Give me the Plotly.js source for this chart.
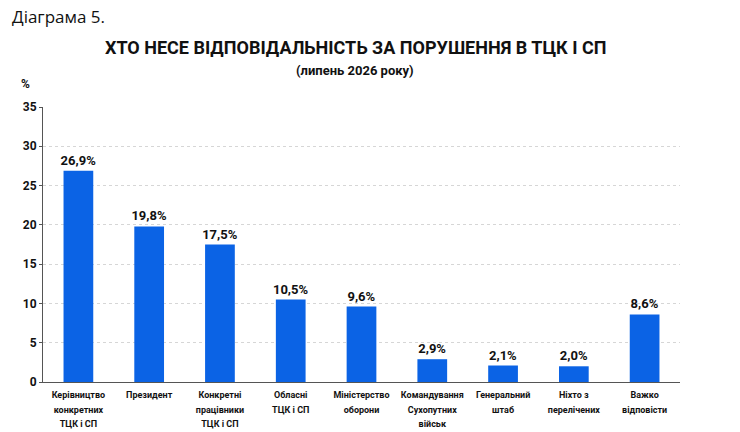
<!DOCTYPE html>
<html>
<head>
<meta charset="utf-8">
<script src="https://cdn.plot.ly/plotly-3.0.1.min.js"></script>
<style>
  html, body { margin: 0; padding: 0; background: #fff; }
  #chart { width: 740px; height: 432px; }
</style>
</head>
<body>
<div id="chart"></div>
<script>
// categories and values
const categories = [
  'Керівництво<br>конкретних<br>ТЦК і СП',
  'Президент',
  'Конкретні<br>працівники<br>ТЦК і СП',
  'Обласні<br>ТЦК і СП',
  'Міністерство<br>оборони',
  'Командування<br>Сухопутних<br>військ',
  'Генеральний<br>штаб',
  'Ніхто з<br>перелічених',
  'Важко<br>відповісти'
];
const values = [26.9, 19.8, 17.5, 10.5, 9.6, 2.9, 2.1, 2.0, 8.6];
const yTicks = [0, 5, 10, 15, 20, 25, 30, 35];

const condensed = 'Roboto, "Liberation Sans", sans-serif';
const blue = '#0b63e5';

// small glyphs but roomy line spacing, as in the picture
const tickText = categories.map(c =>
  c.split('<br>').map(s => '<span style="font-size:9px">' + s + '</span>').join('<br>'));

const data = [{
  x: categories,
  y: values,
  type: 'bar',
  marker: { color: blue },
  text: values.map(v => v.toFixed(1).replace('.', ',') + '%'),
  textposition: 'outside',
  constraintext: 'none',
  cliponaxis: false,
  textfont: { family: condensed, size: 13, color: '#111', weight: 'bold' },
  hoverinfo: 'skip'
}];

const layout = {
  width: 740,
  height: 432,
  paper_bgcolor: '#fff',
  plot_bgcolor: '#fff',
  showlegend: false,
  bargap: 0.58,
  margin: { l: 43, r: 60, t: 107, b: 50 },
  font: { family: condensed, color: '#111' },
  xaxis: {
    type: 'category',
    range: [-0.5, 8.5],
    tickvals: categories,
    ticktext: tickText,
    ticklabelstandoff: 2,
    showline: true,
    linecolor: '#555',
    linewidth: 1,
    ticks: '',
    showgrid: false,
    tickfont: { family: condensed, size: 11, color: '#111', weight: 'bold' }
  },
  yaxis: {
    range: [0, 35],
    tickvals: yTicks,
    showline: true,
    linecolor: '#555',
    linewidth: 1,
    ticks: 'outside',
    ticklen: 3,
    tickcolor: '#555',
    showgrid: true,
    gridcolor: '#d6d6d6',
    griddash: 'dot',
    zeroline: false,
    tickfont: { family: condensed, size: 12, color: '#111', weight: 'bold' }
  },
  annotations: [
    { text: 'Діаграма 5.', xref: 'paper', yref: 'paper', x: -0.055, y: 1.33, xanchor: 'left', yanchor: 'middle',
      showarrow: false, xshift: 2, font: { family: '"Open Sans", sans-serif', size: 17, color: '#111' } },
    { text: 'ХТО НЕСЕ ВІДПОВІДАЛЬНІСТЬ ЗА ПОРУШЕННЯ В ТЦК І СП', xref: 'paper', yref: 'paper',
      x: 0.49, y: 1.218, xanchor: 'center', yanchor: 'middle', showarrow: false,
      font: { family: condensed, size: 18, color: '#111', weight: 'bold' } },
    { text: '(липень 2026 року)', xref: 'paper', yref: 'paper',
      x: 0.49, y: 1.131, xanchor: 'center', yanchor: 'middle', showarrow: false,
      font: { family: condensed, size: 13, color: '#111', weight: 'bold' } },
    { text: '%', xref: 'paper', yref: 'paper', x: -0.028, y: 1.084, xanchor: 'center', yanchor: 'middle',
      showarrow: false, font: { family: condensed, size: 12, color: '#111', weight: 'bold' } }
  ]
};

Plotly.newPlot('chart', data, layout, { displayModeBar: false, staticPlot: true });
</script>
</body>
</html>
